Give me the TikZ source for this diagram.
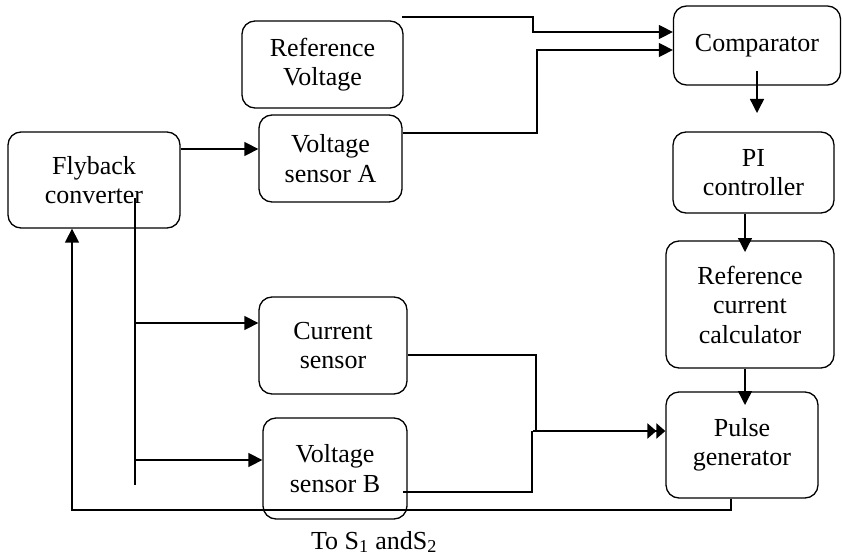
\documentclass[tikz,border=0pt]{standalone}
\usepackage{fontspec}
\setmainfont{Liberation Serif}
\usetikzlibrary{arrows.meta}
\begin{document}
\begin{tikzpicture}[x=1pt,y=-1pt,
  box/.style={draw, rounded corners=13pt, line width=1.3pt, inner sep=0pt, align=center,
    font=\fontsize{26}{29.5}\selectfont},
  conn/.style={line width=1.4pt},
  arr/.style={conn, -{Triangle[length=14pt,width=14pt]}},
  darr/.style={line width=2.2pt, -{Triangle[length=9pt,width=15pt]Triangle[length=9pt,width=15pt]}}]
\useasboundingbox (0,0) rectangle (842,559);
% boxes
\node[box, minimum width=161pt, minimum height=87pt] (refv) at (322.5,64.5) {Reference\\Voltage};
\node[box, minimum width=143pt, minimum height=87pt] (vsa) at (330.5,158.5) {Voltage\\sensor A};
\node[box, minimum width=167pt, minimum height=79pt] (comp) at (757,45.5) {Comparator};
\node[box, minimum width=161pt, minimum height=81pt] (pi) at (753.5,172.5) {PI\\controller};
\node[box, minimum width=168pt, minimum height=127pt] (rcc) at (750,304.5) {Reference\\current\\calculator};
\node[box, minimum width=152pt, minimum height=106pt] (pulse) at (742,445) {Pulse\\generator};
\node[box, minimum width=172pt, minimum height=96pt] (fly) at (94,180) {Flyback\\converter};
\node[box, minimum width=148pt, minimum height=97pt] (cs) at (333,345.5) {Current\\sensor};
\node[box, minimum width=144pt, minimum height=101pt] (vsb) at (335,468.5) {Voltage\\sensor B};
\node[font=\fontsize{26}{29.5}\selectfont, inner sep=0pt] (out) at (374,542) {To S\textsubscript{1} andS\textsubscript{2}};
% free ends
\coordinate (r1) at (402,17);
\coordinate (c1) at (757,71);
\coordinate (c2) at (757,113);
\coordinate (p2) at (745,252);
\coordinate (q2) at (745,405);
\coordinate (t1) at (135,198);
\coordinate (t2) at (135,485);
\coordinate (b1) at (403,492);
\coordinate (j) at (533,431);
% connectors
\draw[arr] (r1) -| (533,32) -- (comp.west |- 0,32);
\draw[arr] (vsa.east |- 0,133) -| (537,50) -- (comp.west |- 0,50);
\draw[arr] (c1) -- (c2);
\draw[arr] (745,0 |- pi.south) -- (p2);
\draw[arr] (745,0 |- rcc.south) -- (q2);
\draw[arr] (pulse.south -| 731,0) -- (731,510) -| (fly.south -| 72,0);
\draw[arr] (fly.east |- 0,149) -- (vsa.west |- 0,149);
\draw[conn] (t1) -- (t2);
\draw[arr] (135,323) -- (cs.west |- 0,323);
\draw[arr] (135,460) -- (vsb.west |- 0,460);
\draw[conn] (cs.east |- 0,355) -| (536,431);
\draw[conn] (b1) -| (532,431);
\draw[darr] (j) -- (pulse.west |- 0,431);
\end{tikzpicture}
\end{document}
